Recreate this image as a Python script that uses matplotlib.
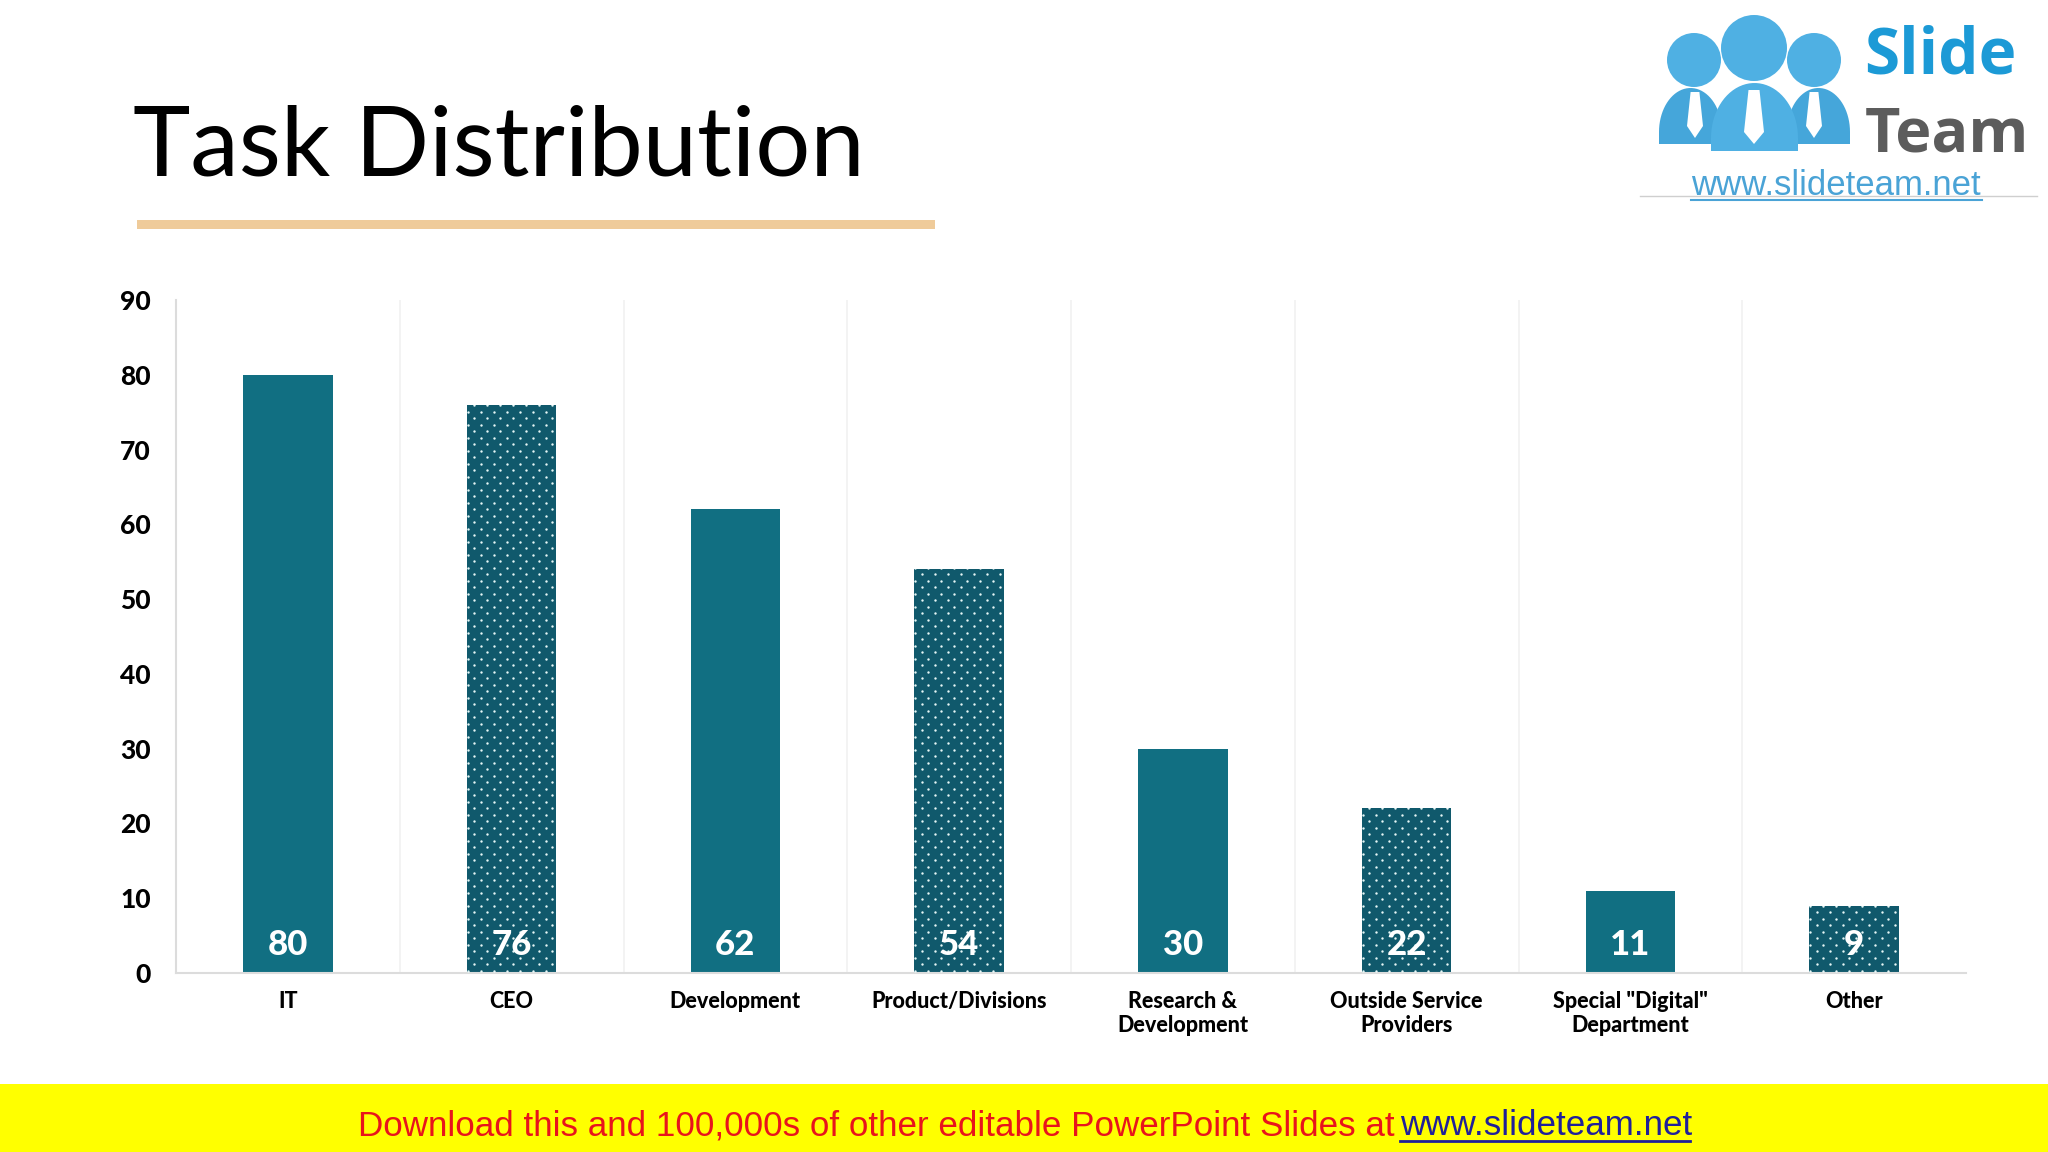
import numpy as np
import matplotlib
matplotlib.use('Agg')
import matplotlib.pyplot as plt
from matplotlib.patches import Circle, Polygon, Rectangle

categories = ['IT', 'CEO', 'Development', 'Product/Divisions', 'Research &\nDevelopment',
              'Outside Service\nProviders', 'Special "Digital"\nDepartment', 'Other']
values = [80, 76, 62, 54, 30, 22, 11, 9]
y_ticks = [0, 10, 20, 30, 40, 50, 60, 70, 80, 90]

W, H = 2048, 1152
SOLID = '#116f82'
DOTTED = '#10596c'
FONT = 'Lato'

plt.rcParams['font.family'] = [FONT, 'DejaVu Sans']


def body(x0, x1, top, bottom, shoulder):
    # dome outline of a logo figure: half ellipse on a short straight base
    t = np.linspace(np.pi, 2 * np.pi, 40)
    cx, rx = (x0 + x1) / 2, (x1 - x0) / 2
    pts = list(zip(cx + rx * np.cos(t), shoulder + (shoulder - top) * np.sin(t)))
    return pts + [(x1, bottom), (x0, bottom)]


fig = plt.figure(figsize=(W / 100, H / 100), dpi=100, facecolor='white')

# page layer in pixel coordinates, for everything outside the chart
page = fig.add_axes([0, 0, 1, 1])
page.set_xlim(0, W)
page.set_ylim(H, 0)
page.axis('off')

# title
page.text(133, 175, 'Task Distribution', fontsize=70, family=FONT, color='black', va='baseline')
page.add_patch(Rectangle((137, 220), 798, 9, color='#efcb9a', lw=0))

# logo
BLUE = '#4fb0e3'
page.add_patch(Polygon(body(1659, 1722, 88, 144, 132), closed=True, color='#45a6da', lw=0))
page.add_patch(Polygon(body(1787, 1850, 88, 144, 132), closed=True, color='#45a6da', lw=0))
page.add_patch(Polygon(body(1711, 1798, 83, 151, 138), closed=True, color=BLUE, lw=0, zorder=3))
for cx, cy, r in [(1694, 60, 27), (1814, 60, 27)]:
    page.add_patch(Circle((cx, cy), r, color=BLUE, lw=0))
page.add_patch(Circle((1754, 48), 33, color=BLUE, lw=0, zorder=3))
for cx, top, bot, hw, z in [(1695, 92, 138, 8, 2), (1814, 92, 138, 8, 2), (1754, 90, 144, 10, 4)]:
    tie = [(cx - hw * 0.55, top), (cx + hw * 0.55, top), (cx + hw, bot - 12), (cx, bot), (cx - hw, bot - 12)]
    page.add_patch(Polygon(tie, closed=True, color='white', lw=0, zorder=z))
page.text(1864, 74, 'Slide', fontsize=46, family='Open Sans', weight='bold', color='#1c9ad6', va='baseline')
page.text(1865, 151, 'Team', fontsize=44, family='Open Sans', weight='bold', color='#5c5c5c', va='baseline')
page.text(1836, 195, 'www.slideteam.net', fontsize=25, family='Liberation Sans', color='#4aa3d6',
          va='baseline', ha='center')
page.plot([1691, 1982], [200, 200], color='#4aa3d6', lw=1.5)
page.plot([1640, 2037], [195.5, 195.5], color='#cfcfcf', lw=1)

# footer banner
page.add_patch(Rectangle((0, 1084), W, H - 1084, color='#ffff00', lw=0))
page.text(358, 1135, 'Download this and 100,000s of other editable PowerPoint Slides at', fontsize=25.2,
          family='Liberation Sans', color='#e8141c', va='baseline')
page.text(1400, 1135, 'www.slideteam.net', fontsize=25.2, family='Liberation Sans', color='#20209a', va='baseline')
page.plot([1400, 1690], [1141, 1141], color='#20209a', lw=2)

# chart
ax = fig.add_axes([176 / W, 1 - 973 / H, (1966 - 176) / W, (973 - 300) / H])
x = np.arange(len(values))
ax.set_xlim(-0.5, len(values) - 0.5)
ax.set_ylim(0, 90)
ax.set_facecolor('none')

colors = [SOLID if i % 2 == 0 else DOTTED for i in x]
bars = ax.bar(x, values, width=0.4, color=colors, zorder=2)

# dotted texture on every second bar, staggered rows
step_x = 13 / 223.75
step_y = 6.5 / 7.478
for i, bar in enumerate(bars):
    if i % 2 == 0:
        continue
    rows = np.arange(0, values[i] + step_y, step_y)
    px, py = [], []
    for r, yy in enumerate(rows):
        shift = 0 if r % 2 == 0 else step_x / 2
        for xx in np.arange(i - 0.2 + shift + 0.004, i + 0.2, step_x):
            px.append(xx)
            py.append(yy + 0.3)
    dots = ax.scatter(px, py, s=3, color='#e6f7f7', lw=0, zorder=3)
    dots.set_clip_path(bar)

# separators between categories
for b in x[1:]:
    ax.axvline(b - 0.5, color='#f1f1f1', lw=1.2, zorder=1)

for s in ['top', 'right']:
    ax.spines[s].set_visible(False)
for s in ['left', 'bottom']:
    ax.spines[s].set_color('#dcdcdc')
    ax.spines[s].set_linewidth(1.5)

ax.set_yticks(y_ticks)
ax.set_xticks(x)
ax.set_xticklabels(categories, fontsize=15.5, weight='black', linespacing=1.2)
ax.tick_params(axis='x', length=0, pad=13)
ax.tick_params(axis='y', length=0, pad=18, labelsize=19)
for lab in ax.get_yticklabels():
    lab.set_fontweight('black')

# value labels sit just above the baseline
for xi, v in zip(x, values):
    ax.annotate(str(v), (xi, 0), xytext=(0, 8.5), textcoords='offset points', ha='center', va='bottom',
                fontsize=25, weight='black', color='white', zorder=5)

fig.savefig('out.png', dpi=100)
